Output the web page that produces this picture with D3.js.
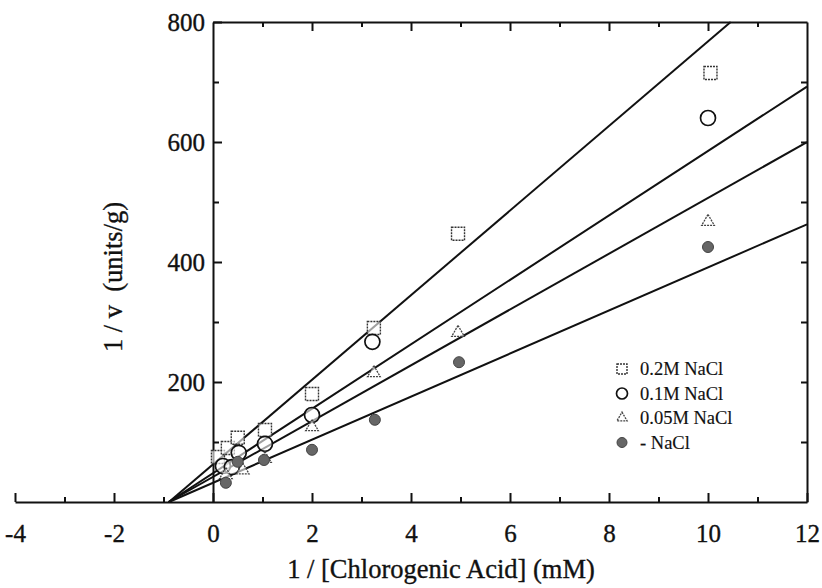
<!DOCTYPE html>
<html>
<head>
<meta charset="utf-8">
<script src="https://cdn.jsdelivr.net/npm/d3@7"></script>
<style>
  body { margin: 0; background: #fff; }
  svg text { font-family: "Liberation Serif", "Times New Roman", Times, "DejaVu Serif", serif; fill: #111; stroke: #111; stroke-width: 0.35px; }
</style>
</head>
<body>
<div id="chart"></div>
<script>
// Datos
const seriesNames = ["0.2M NaCl", "0.1M NaCl", "0.05M NaCl", "- NaCl"]
const squareX = [0.1, 0.3, 0.5, 1.05, 2, 3.25, 4.95, 10.05]
const squareY = [75, 90, 107, 120, 180, 290, 447, 715]
const circleX = [0.2, 0.38, 0.52, 1.05, 2, 3.22, 10]
const circleY = [60, 58, 82, 97, 145, 267, 640]
const triangleX = [0.26, 0.6, 1.05, 2, 3.25, 4.95, 10]
const triangleY = [45, 53, 72, 125, 215, 282, 467]
const dotX = [0.26, 0.5, 1.03, 2, 3.27, 4.97, 10]
const dotY = [32, 67, 70, 87, 137, 233, 425]
// rectas de ajuste (y = m*x + b)
const fitSlope = [70.5, 53.7, 46.5, 35.9]
const fitIntercept = [62.7, 48, 41.8, 32]
const xTicks = [-4, -2, 0, 2, 4, 6, 8, 10, 12]
const yTicks = [200, 400, 600, 800]

//Constantes
const width = 822
const height = 588
const serif = '"Liberation Serif", "Times New Roman", Times, "DejaVu Serif", serif'
const x = d3.scaleLinear().domain([-4, 12]).range([15, 807])
const y = d3.scaleLinear().domain([0, 800]).range([502, 22])

const svg = d3.select("#chart").append("svg")
    .attr("width", width)
    .attr("height", height)
    .attr("font-family", serif)

const axisGroup = svg.append("g").attr("class", "axisGroup")
const elementGroup = svg.append("g").attr("class", "elementGroup")

// Ejes: bottom (desde -4), top/left/right (caja desde 0)
const bottomMinor = axisGroup.append("g").attr("transform", `translate(0, ${y(0)})`)
bottomMinor.call(d3.axisBottom(x).tickValues(d3.range(-4, 13, 1).filter(d => d % 2 != 0)).tickSize(-5).tickFormat(""))
bottomMinor.call(g => g.select(".domain").remove())
const bottomMajor = axisGroup.append("g").attr("transform", `translate(0, ${y(0)})`)
bottomMajor.call(d3.axisBottom(x).tickValues(xTicks).tickSize(-9).tickPadding(22).tickFormat(d => String(d)).tickSizeOuter(0))

const xBox = d3.scaleLinear().domain([0, 12]).range([x(0), x(12)])
const topAxis = axisGroup.append("g").attr("transform", `translate(0, ${y(800)})`)
topAxis.call(d3.axisTop(xBox).tickValues(d3.range(1, 12)).tickSize(-6).tickFormat("").tickSizeOuter(0))
topAxis.selectAll(".tick line").attr("y2", d => d % 2 == 0 ? 9 : 5)

const leftAxis = axisGroup.append("g").attr("transform", `translate(${x(0)}, 0)`)
leftAxis.call(d3.axisLeft(y).tickValues(d3.range(100, 801, 100)).tickSize(-6).tickPadding(8).tickSizeOuter(0)
    .tickFormat(d => yTicks.includes(d) ? d : ""))
leftAxis.selectAll(".tick line").attr("x2", d => d % 200 == 0 ? 9 : 6)

const rightAxis = axisGroup.append("g").attr("transform", `translate(${x(12)}, 0)`)
rightAxis.call(d3.axisRight(y).tickValues(d3.range(100, 800, 100)).tickSize(-6).tickFormat("").tickSizeOuter(0))

axisGroup.selectAll("g").attr("font-family", serif)
axisGroup.selectAll(".domain").attr("stroke", "#111").attr("stroke-width", 2)
axisGroup.selectAll(".tick line").attr("stroke", "#111").attr("stroke-width", 2)
axisGroup.selectAll(".tick text")
    .style("font-family", serif)
    .style("font-size", "25px")
    .attr("fill", "#111")
leftAxis.selectAll(".tick text").attr("dy", "0.35em")

// Titulos
svg.append("text")
    .attr("x", 441).attr("y", 578)
    .attr("text-anchor", "middle")
    .style("font-size", "26.5px")
    .text("1 / [Chlorogenic Acid] (mM)")
svg.append("text")
    .attr("transform", "translate(122, 277) rotate(-90)")
    .attr("text-anchor", "middle")
    .style("font-size", "26.5px")
    .style("white-space", "pre")
    .text("1 / v  (units/g)")

// Rectas
fitSlope.forEach((m, i) => {
    const b = fitIntercept[i]
    const x0 = -b / m
    const x1 = Math.min(12, (800 - b) / m)
    elementGroup.append("line")
        .attr("x1", x(x0)).attr("y1", y(m * x0 + b))
        .attr("x2", x(x1)).attr("y2", y(m * x1 + b))
        .attr("stroke", "#111")
        .attr("stroke-width", 2)
})

// Marcadores
const symTriangle = d3.symbol().type(d3.symbolTriangle)

function drawSquare(g, cx, cy, s) {
    g.append("rect")
        .attr("x", cx - s / 2).attr("y", cy - s / 2)
        .attr("width", s).attr("height", s)
        .attr("fill", "#fff").attr("fill-opacity", 0.6)
        .attr("stroke", "#333").attr("stroke-width", 1.4)
        .attr("stroke-dasharray", "2,1")
}
function drawCircle(g, cx, cy, r) {
    g.append("circle")
        .attr("cx", cx).attr("cy", cy).attr("r", r)
        .attr("fill", "#fff").attr("fill-opacity", 0.6)
        .attr("stroke", "#111").attr("stroke-width", 1.7)
}
function drawTriangle(g, cx, cy, s) {
    g.append("path")
        .attr("transform", `translate(${cx}, ${cy})`)
        .attr("d", symTriangle.size(s)())
        .attr("fill", "#fff").attr("fill-opacity", 0.6)
        .attr("stroke", "#444").attr("stroke-width", 1.3)
        .attr("stroke-dasharray", "2,1")
}
function drawDot(g, cx, cy, r) {
    g.append("circle")
        .attr("cx", cx).attr("cy", cy).attr("r", r)
        .attr("fill", "#666")
        .attr("stroke", "#444").attr("stroke-width", 1)
}

squareX.forEach((d, i) => drawSquare(elementGroup, x(d), y(squareY[i]), 13))
circleX.forEach((d, i) => drawCircle(elementGroup, x(d), y(circleY[i]), 7.5))
triangleX.forEach((d, i) => drawTriangle(elementGroup, x(d), y(triangleY[i]), 70))
dotX.forEach((d, i) => drawDot(elementGroup, x(d), y(dotY[i]), 5.5))

// Leyenda
const leyenda = svg.append("g").attr("transform", "translate(622, 369)")
const drawers = [
    (g, cy) => drawSquare(g, 0, cy, 10),
    (g, cy) => drawCircle(g, 0, cy, 5.5),
    (g, cy) => drawTriangle(g, 0, cy, 45),
    (g, cy) => drawDot(g, 0, cy, 5)
]
seriesNames.forEach((name, i) => {
    const cy = i * 24.5
    drawers[i](leyenda, cy)
    leyenda.append("text")
        .attr("x", 18).attr("y", cy)
        .attr("dy", "0.35em")
        .style("font-size", "18.5px")
        .style("stroke-width", "0.15px")
        .text(name)
})
</script>
</body>
</html>
